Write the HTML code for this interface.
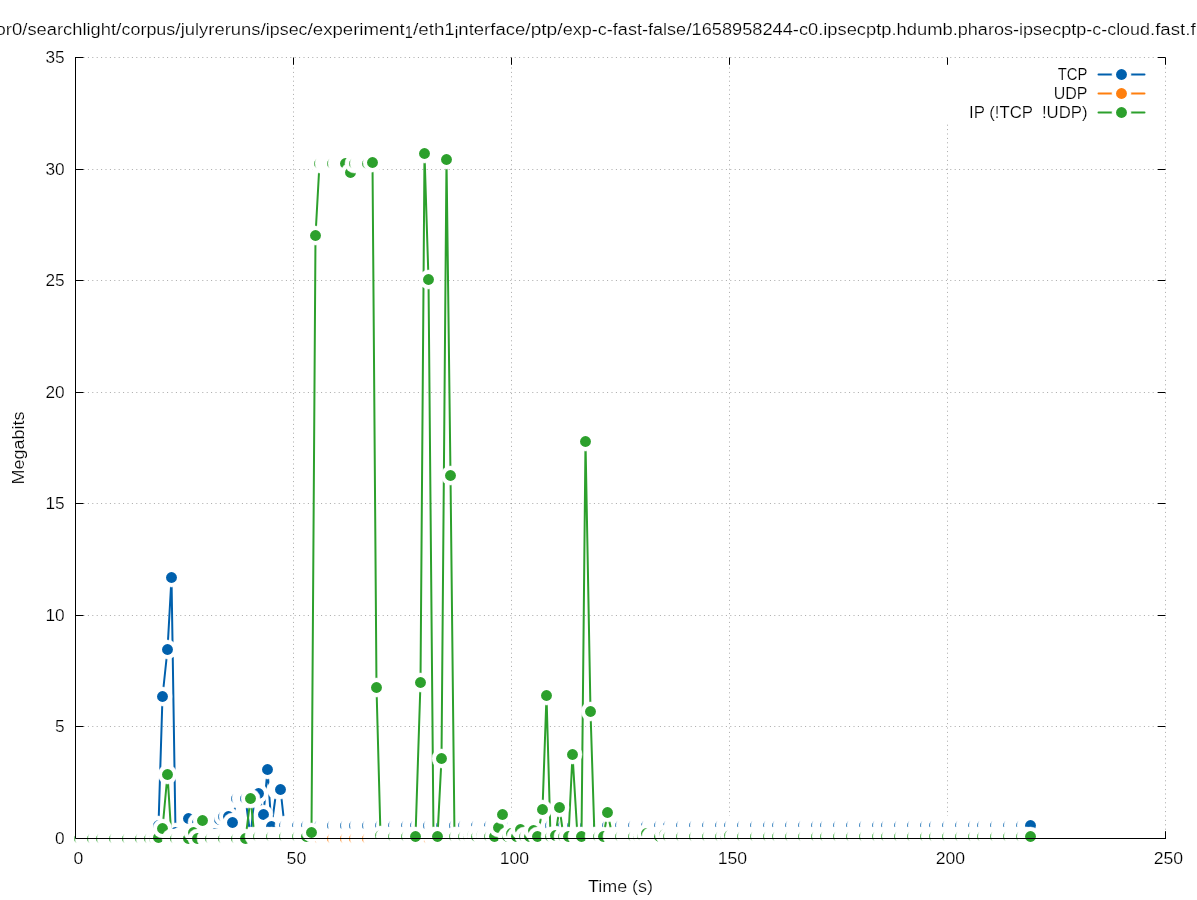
<!DOCTYPE html>
<html><head><meta charset="utf-8"><title>plot</title>
<style>html,body{margin:0;padding:0;background:#fff;overflow:hidden}svg{display:block}circle.h{fill:#fff;stroke:#fff;stroke-opacity:.5;stroke-width:1.2}text{font-family:"Liberation Sans",sans-serif;font-size:16px;fill:#000;stroke:#fff;stroke-width:.2px}</style></head><body>
<svg width="1197" height="900" viewBox="0 0 1197 900">
<rect width="1197" height="900" fill="#fff"/>
<g stroke="#000" stroke-opacity="0.34" stroke-width="1" stroke-dasharray="1 3.4" fill="none">
<path d="M83.5 726.5H1165.5"/>
<path d="M83.5 615.5H1165.5"/>
<path d="M83.5 503.5H1165.5"/>
<path d="M83.5 392.5H1165.5"/>
<path d="M83.5 280.5H1165.5"/>
<path d="M83.5 169.5H1165.5"/>
<path d="M83.5 57.5H1165.5"/>
<path d="M293.5 838.5V57.5"/>
<path d="M511.5 838.5V57.5"/>
<path d="M729.5 838.5V57.5"/>
<path d="M947.5 838.5V57.5"/>
<path d="M1165.5 838.5V57.5"/>
</g>
<g stroke="#000" stroke-width="1" fill="none">
<path d="M75.5 838.5h8M1165.5 838.5h-7.6"/>
<path d="M75.5 726.5h8M1165.5 726.5h-7.6"/>
<path d="M75.5 615.5h8M1165.5 615.5h-7.6"/>
<path d="M75.5 503.5h8M1165.5 503.5h-7.6"/>
<path d="M75.5 392.5h8M1165.5 392.5h-7.6"/>
<path d="M75.5 280.5h8M1165.5 280.5h-7.6"/>
<path d="M75.5 169.5h8M1165.5 169.5h-7.6"/>
<path d="M75.5 57.5h8M1165.5 57.5h-7.6"/>
<path d="M75.5 838.5v-7.3M75.5 57.5v7.3"/>
<path d="M293.5 838.5v-7.3M293.5 57.5v7.3"/>
<path d="M511.5 838.5v-7.3M511.5 57.5v7.3"/>
<path d="M729.5 838.5v-7.3M729.5 57.5v7.3"/>
<path d="M947.5 838.5v-7.3M947.5 57.5v7.3"/>
<path d="M1165.5 838.5v-7.3M1165.5 57.5v7.3"/>
</g>
<rect x="940" y="65.5" width="221" height="58" fill="#fff"/>
<g>
<path d="M158.5 825.5L162.5 696.5L167.5 649.5L171.5 577.5L175.5 832.5L180.5 836.5L184.5 836.5L188.5 818.5L193.5 836.5L197.5 822.5L202.5 836.5L206.5 836.5L210.5 836.5L215.5 833.5L219.5 819.5L223.5 816.5L228.5 816.5L232.5 822.5L236.5 798.5L241.5 798.5L245.5 798.5L250.5 836.5L254.5 797.5L258.5 793.5L263.5 814.5L267.5 769.5L271.5 826.5L276.5 789.5L280.5 789.5L284.5 825.5L289.5 825.5L293.5 825.5L297.5 825.5L302.5 825.5L306.5 825.5L311.5 825.5L315.5 825.5L319.5 825.5L324.5 825.5L328.5 825.5L332.5 825.5L337.5 825.5L341.5 825.5L345.5 825.5L350.5 825.5L354.5 825.5L359.5 825.5L363.5 825.5L367.5 825.5L372.5 825.5L376.5 825.5L380.5 825.5L385.5 825.5L389.5 825.5L393.5 825.5L398.5 825.5L402.5 825.5L406.5 825.5L411.5 825.5L415.5 825.5L420.5 825.5L424.5 825.5L428.5 825.5L433.5 825.5L437.5 825.5L441.5 825.5L446.5 825.5L450.5 825.5L454.5 825.5L459.5 825.5L463.5 825.5L468.5 825.5L472.5 825.5L476.5 825.5L481.5 825.5L485.5 825.5L489.5 825.5L494.5 825.5L498.5 825.5L502.5 825.5L507.5 825.5L511.5 825.5L516.5 825.5L520.5 825.5L524.5 825.5L529.5 825.5L533.5 825.5L537.5 825.5L542.5 825.5L546.5 825.5L550.5 825.5L555.5 825.5L559.5 825.5L563.5 825.5L568.5 825.5L572.5 825.5L577.5 825.5L581.5 825.5L585.5 825.5L590.5 825.5L594.5 825.5L598.5 825.5L603.5 825.5L607.5 825.5L612.5 825.5L616.5 825.5L620.5 825.5L625.5 825.5L629.5 825.5L633.5 825.5L638.5 825.5L642.5 825.5L646.5 825.5L651.5 825.5L655.5 825.5L659.5 825.5L664.5 825.5L668.5 825.5L673.5 825.5L677.5 825.5L681.5 825.5L686.5 825.5L690.5 825.5L694.5 825.5L699.5 825.5L703.5 825.5L707.5 825.5L712.5 825.5L716.5 825.5L720.5 825.5L725.5 825.5L729.5 825.5L734.5 825.5L738.5 825.5L742.5 825.5L747.5 825.5L751.5 825.5L755.5 825.5L760.5 825.5L764.5 825.5L768.5 825.5L773.5 825.5L777.5 825.5L782.5 825.5L786.5 825.5L790.5 825.5L795.5 825.5L799.5 825.5L803.5 825.5L808.5 825.5L812.5 825.5L816.5 825.5L821.5 825.5L825.5 825.5L830.5 825.5L834.5 825.5L838.5 825.5L843.5 825.5L847.5 825.5L851.5 825.5L856.5 825.5L860.5 825.5L864.5 825.5L869.5 825.5L873.5 825.5L877.5 825.5L882.5 825.5L886.5 825.5L891.5 825.5L895.5 825.5L899.5 825.5L904.5 825.5L908.5 825.5L912.5 825.5L917.5 825.5L921.5 825.5L925.5 825.5L930.5 825.5L934.5 825.5L939.5 825.5L943.5 825.5L947.5 825.5L952.5 825.5L956.5 825.5L960.5 825.5L965.5 825.5L969.5 825.5L973.5 825.5L978.5 825.5L982.5 825.5L987.5 825.5L991.5 825.5L995.5 825.5L1000.5 825.5L1004.5 825.5L1008.5 825.5L1013.5 825.5L1017.5 825.5L1021.5 825.5L1026.5 825.5L1030.5 825.5" fill="none" stroke="#0060ad" stroke-width="2" stroke-linejoin="round" stroke-linecap="round"/>
<circle class="h" cx="158.5" cy="825.5" r="9.42"/>
<circle cx="158.5" cy="825.5" r="5.45" fill="#0060ad"/>
<circle class="h" cx="162.5" cy="696.5" r="9.42"/>
<circle cx="162.5" cy="696.5" r="5.45" fill="#0060ad"/>
<circle class="h" cx="167.5" cy="649.5" r="9.42"/>
<circle cx="167.5" cy="649.5" r="5.45" fill="#0060ad"/>
<circle class="h" cx="171.5" cy="577.5" r="9.42"/>
<circle cx="171.5" cy="577.5" r="5.45" fill="#0060ad"/>
<circle class="h" cx="175.5" cy="832.5" r="9.42"/>
<circle cx="175.5" cy="832.5" r="5.45" fill="#0060ad"/>
<circle class="h" cx="180.5" cy="836.5" r="9.42"/>
<circle class="h" cx="184.5" cy="836.5" r="9.42"/>
<circle class="h" cx="188.5" cy="818.5" r="9.42"/>
<circle cx="188.5" cy="818.5" r="5.45" fill="#0060ad"/>
<circle class="h" cx="193.5" cy="836.5" r="9.42"/>
<circle class="h" cx="197.5" cy="822.5" r="9.42"/>
<circle cx="197.5" cy="822.5" r="5.45" fill="#0060ad"/>
<circle class="h" cx="202.5" cy="836.5" r="9.42"/>
<circle class="h" cx="206.5" cy="836.5" r="9.42"/>
<circle class="h" cx="210.5" cy="836.5" r="9.42"/>
<circle class="h" cx="215.5" cy="833.5" r="9.42"/>
<circle cx="215.5" cy="833.5" r="5.45" fill="#0060ad"/>
<circle class="h" cx="219.5" cy="819.5" r="9.42"/>
<circle cx="219.5" cy="819.5" r="5.45" fill="#0060ad"/>
<circle class="h" cx="223.5" cy="816.5" r="9.42"/>
<circle cx="223.5" cy="816.5" r="5.45" fill="#0060ad"/>
<circle class="h" cx="228.5" cy="816.5" r="9.42"/>
<circle cx="228.5" cy="816.5" r="5.45" fill="#0060ad"/>
<circle class="h" cx="232.5" cy="822.5" r="9.42"/>
<circle cx="232.5" cy="822.5" r="5.45" fill="#0060ad"/>
<circle class="h" cx="236.5" cy="798.5" r="9.42"/>
<circle cx="236.5" cy="798.5" r="5.45" fill="#0060ad"/>
<circle class="h" cx="241.5" cy="798.5" r="9.42"/>
<circle class="h" cx="245.5" cy="798.5" r="9.42"/>
<circle cx="245.5" cy="798.5" r="5.45" fill="#0060ad"/>
<circle class="h" cx="250.5" cy="836.5" r="9.42"/>
<circle class="h" cx="254.5" cy="797.5" r="9.42"/>
<circle cx="254.5" cy="797.5" r="5.45" fill="#0060ad"/>
<circle class="h" cx="258.5" cy="793.5" r="9.42"/>
<circle cx="258.5" cy="793.5" r="5.45" fill="#0060ad"/>
<circle class="h" cx="263.5" cy="814.5" r="9.42"/>
<circle cx="263.5" cy="814.5" r="5.45" fill="#0060ad"/>
<circle class="h" cx="267.5" cy="769.5" r="9.42"/>
<circle cx="267.5" cy="769.5" r="5.45" fill="#0060ad"/>
<circle class="h" cx="271.5" cy="826.5" r="9.42"/>
<circle cx="271.5" cy="826.5" r="5.45" fill="#0060ad"/>
<circle class="h" cx="276.5" cy="789.5" r="9.42"/>
<circle class="h" cx="280.5" cy="789.5" r="9.42"/>
<circle cx="280.5" cy="789.5" r="5.45" fill="#0060ad"/>
<circle class="h" cx="284.5" cy="825.5" r="9.42"/>
<circle cx="284.5" cy="825.5" r="5.45" fill="#0060ad"/>
<circle class="h" cx="289.5" cy="825.5" r="9.42"/>
<circle class="h" cx="293.5" cy="825.5" r="9.42"/>
<circle class="h" cx="297.5" cy="825.5" r="9.42"/>
<circle cx="297.5" cy="825.5" r="5.45" fill="#0060ad"/>
<circle class="h" cx="302.5" cy="825.5" r="9.42"/>
<circle class="h" cx="306.5" cy="825.5" r="9.42"/>
<circle cx="306.5" cy="825.5" r="5.45" fill="#0060ad"/>
<circle class="h" cx="311.5" cy="825.5" r="9.42"/>
<circle class="h" cx="315.5" cy="825.5" r="9.42"/>
<circle class="h" cx="319.5" cy="825.5" r="9.42"/>
<circle cx="319.5" cy="825.5" r="5.45" fill="#0060ad"/>
<circle class="h" cx="324.5" cy="825.5" r="9.42"/>
<circle class="h" cx="328.5" cy="825.5" r="9.42"/>
<circle class="h" cx="332.5" cy="825.5" r="9.42"/>
<circle cx="332.5" cy="825.5" r="5.45" fill="#0060ad"/>
<circle class="h" cx="337.5" cy="825.5" r="9.42"/>
<circle class="h" cx="341.5" cy="825.5" r="9.42"/>
<circle class="h" cx="345.5" cy="825.5" r="9.42"/>
<circle cx="345.5" cy="825.5" r="5.45" fill="#0060ad"/>
<circle class="h" cx="350.5" cy="825.5" r="9.42"/>
<circle class="h" cx="354.5" cy="825.5" r="9.42"/>
<circle cx="354.5" cy="825.5" r="5.45" fill="#0060ad"/>
<circle class="h" cx="359.5" cy="825.5" r="9.42"/>
<circle class="h" cx="363.5" cy="825.5" r="9.42"/>
<circle class="h" cx="367.5" cy="825.5" r="9.42"/>
<circle cx="367.5" cy="825.5" r="5.45" fill="#0060ad"/>
<circle class="h" cx="372.5" cy="825.5" r="9.42"/>
<circle class="h" cx="376.5" cy="825.5" r="9.42"/>
<circle class="h" cx="380.5" cy="825.5" r="9.42"/>
<circle cx="380.5" cy="825.5" r="5.45" fill="#0060ad"/>
<circle class="h" cx="385.5" cy="825.5" r="9.42"/>
<circle class="h" cx="389.5" cy="825.5" r="9.42"/>
<circle class="h" cx="393.5" cy="825.5" r="9.42"/>
<circle cx="393.5" cy="825.5" r="5.45" fill="#0060ad"/>
<circle class="h" cx="398.5" cy="825.5" r="9.42"/>
<circle class="h" cx="402.5" cy="825.5" r="9.42"/>
<circle class="h" cx="406.5" cy="825.5" r="9.42"/>
<circle cx="406.5" cy="825.5" r="5.45" fill="#0060ad"/>
<circle class="h" cx="411.5" cy="825.5" r="9.42"/>
<circle class="h" cx="415.5" cy="825.5" r="9.42"/>
<circle cx="415.5" cy="825.5" r="5.45" fill="#0060ad"/>
<circle class="h" cx="420.5" cy="825.5" r="9.42"/>
<circle class="h" cx="424.5" cy="825.5" r="9.42"/>
<circle class="h" cx="428.5" cy="825.5" r="9.42"/>
<circle cx="428.5" cy="825.5" r="5.45" fill="#0060ad"/>
<circle class="h" cx="433.5" cy="825.5" r="9.42"/>
<circle class="h" cx="437.5" cy="825.5" r="9.42"/>
<circle class="h" cx="441.5" cy="825.5" r="9.42"/>
<circle cx="441.5" cy="825.5" r="5.45" fill="#0060ad"/>
<circle class="h" cx="446.5" cy="825.5" r="9.42"/>
<circle class="h" cx="450.5" cy="825.5" r="9.42"/>
<circle class="h" cx="454.5" cy="825.5" r="9.42"/>
<circle cx="454.5" cy="825.5" r="5.45" fill="#0060ad"/>
<circle class="h" cx="459.5" cy="825.5" r="9.42"/>
<circle class="h" cx="463.5" cy="825.5" r="9.42"/>
<circle cx="463.5" cy="825.5" r="5.45" fill="#0060ad"/>
<circle class="h" cx="468.5" cy="825.5" r="9.42"/>
<circle class="h" cx="472.5" cy="825.5" r="9.42"/>
<circle class="h" cx="476.5" cy="825.5" r="9.42"/>
<circle cx="476.5" cy="825.5" r="5.45" fill="#0060ad"/>
<circle class="h" cx="481.5" cy="825.5" r="9.42"/>
<circle class="h" cx="485.5" cy="825.5" r="9.42"/>
<circle class="h" cx="489.5" cy="825.5" r="9.42"/>
<circle cx="489.5" cy="825.5" r="5.45" fill="#0060ad"/>
<circle class="h" cx="494.5" cy="825.5" r="9.42"/>
<circle class="h" cx="498.5" cy="825.5" r="9.42"/>
<circle class="h" cx="502.5" cy="825.5" r="9.42"/>
<circle cx="502.5" cy="825.5" r="5.45" fill="#0060ad"/>
<circle class="h" cx="507.5" cy="825.5" r="9.42"/>
<circle class="h" cx="511.5" cy="825.5" r="9.42"/>
<circle cx="511.5" cy="825.5" r="5.45" fill="#0060ad"/>
<circle class="h" cx="516.5" cy="825.5" r="9.42"/>
<circle class="h" cx="520.5" cy="825.5" r="9.42"/>
<circle class="h" cx="524.5" cy="825.5" r="9.42"/>
<circle cx="524.5" cy="825.5" r="5.45" fill="#0060ad"/>
<circle class="h" cx="529.5" cy="825.5" r="9.42"/>
<circle class="h" cx="533.5" cy="825.5" r="9.42"/>
<circle class="h" cx="537.5" cy="825.5" r="9.42"/>
<circle cx="537.5" cy="825.5" r="5.45" fill="#0060ad"/>
<circle class="h" cx="542.5" cy="825.5" r="9.42"/>
<circle class="h" cx="546.5" cy="825.5" r="9.42"/>
<circle class="h" cx="550.5" cy="825.5" r="9.42"/>
<circle cx="550.5" cy="825.5" r="5.45" fill="#0060ad"/>
<circle class="h" cx="555.5" cy="825.5" r="9.42"/>
<circle class="h" cx="559.5" cy="825.5" r="9.42"/>
<circle class="h" cx="563.5" cy="825.5" r="9.42"/>
<circle cx="563.5" cy="825.5" r="5.45" fill="#0060ad"/>
<circle class="h" cx="568.5" cy="825.5" r="9.42"/>
<circle class="h" cx="572.5" cy="825.5" r="9.42"/>
<circle cx="572.5" cy="825.5" r="5.45" fill="#0060ad"/>
<circle class="h" cx="577.5" cy="825.5" r="9.42"/>
<circle class="h" cx="581.5" cy="825.5" r="9.42"/>
<circle class="h" cx="585.5" cy="825.5" r="9.42"/>
<circle cx="585.5" cy="825.5" r="5.45" fill="#0060ad"/>
<circle class="h" cx="590.5" cy="825.5" r="9.42"/>
<circle class="h" cx="594.5" cy="825.5" r="9.42"/>
<circle class="h" cx="598.5" cy="825.5" r="9.42"/>
<circle cx="598.5" cy="825.5" r="5.45" fill="#0060ad"/>
<circle class="h" cx="603.5" cy="825.5" r="9.42"/>
<circle class="h" cx="607.5" cy="825.5" r="9.42"/>
<circle cx="607.5" cy="825.5" r="5.45" fill="#0060ad"/>
<circle class="h" cx="612.5" cy="825.5" r="9.42"/>
<circle class="h" cx="616.5" cy="825.5" r="9.42"/>
<circle class="h" cx="620.5" cy="825.5" r="9.42"/>
<circle cx="620.5" cy="825.5" r="5.45" fill="#0060ad"/>
<circle class="h" cx="625.5" cy="825.5" r="9.42"/>
<circle class="h" cx="629.5" cy="825.5" r="9.42"/>
<circle class="h" cx="633.5" cy="825.5" r="9.42"/>
<circle cx="633.5" cy="825.5" r="5.45" fill="#0060ad"/>
<circle class="h" cx="638.5" cy="825.5" r="9.42"/>
<circle class="h" cx="642.5" cy="825.5" r="9.42"/>
<circle class="h" cx="646.5" cy="825.5" r="9.42"/>
<circle cx="646.5" cy="825.5" r="5.45" fill="#0060ad"/>
<circle class="h" cx="651.5" cy="825.5" r="9.42"/>
<circle class="h" cx="655.5" cy="825.5" r="9.42"/>
<circle class="h" cx="659.5" cy="825.5" r="9.42"/>
<circle cx="659.5" cy="825.5" r="5.45" fill="#0060ad"/>
<circle class="h" cx="664.5" cy="825.5" r="9.42"/>
<circle class="h" cx="668.5" cy="825.5" r="9.42"/>
<circle cx="668.5" cy="825.5" r="5.45" fill="#0060ad"/>
<circle class="h" cx="673.5" cy="825.5" r="9.42"/>
<circle class="h" cx="677.5" cy="825.5" r="9.42"/>
<circle class="h" cx="681.5" cy="825.5" r="9.42"/>
<circle cx="681.5" cy="825.5" r="5.45" fill="#0060ad"/>
<circle class="h" cx="686.5" cy="825.5" r="9.42"/>
<circle class="h" cx="690.5" cy="825.5" r="9.42"/>
<circle class="h" cx="694.5" cy="825.5" r="9.42"/>
<circle cx="694.5" cy="825.5" r="5.45" fill="#0060ad"/>
<circle class="h" cx="699.5" cy="825.5" r="9.42"/>
<circle class="h" cx="703.5" cy="825.5" r="9.42"/>
<circle class="h" cx="707.5" cy="825.5" r="9.42"/>
<circle cx="707.5" cy="825.5" r="5.45" fill="#0060ad"/>
<circle class="h" cx="712.5" cy="825.5" r="9.42"/>
<circle class="h" cx="716.5" cy="825.5" r="9.42"/>
<circle class="h" cx="720.5" cy="825.5" r="9.42"/>
<circle cx="720.5" cy="825.5" r="5.45" fill="#0060ad"/>
<circle class="h" cx="725.5" cy="825.5" r="9.42"/>
<circle class="h" cx="729.5" cy="825.5" r="9.42"/>
<circle cx="729.5" cy="825.5" r="5.45" fill="#0060ad"/>
<circle class="h" cx="734.5" cy="825.5" r="9.42"/>
<circle class="h" cx="738.5" cy="825.5" r="9.42"/>
<circle class="h" cx="742.5" cy="825.5" r="9.42"/>
<circle cx="742.5" cy="825.5" r="5.45" fill="#0060ad"/>
<circle class="h" cx="747.5" cy="825.5" r="9.42"/>
<circle class="h" cx="751.5" cy="825.5" r="9.42"/>
<circle class="h" cx="755.5" cy="825.5" r="9.42"/>
<circle cx="755.5" cy="825.5" r="5.45" fill="#0060ad"/>
<circle class="h" cx="760.5" cy="825.5" r="9.42"/>
<circle class="h" cx="764.5" cy="825.5" r="9.42"/>
<circle class="h" cx="768.5" cy="825.5" r="9.42"/>
<circle cx="768.5" cy="825.5" r="5.45" fill="#0060ad"/>
<circle class="h" cx="773.5" cy="825.5" r="9.42"/>
<circle class="h" cx="777.5" cy="825.5" r="9.42"/>
<circle cx="777.5" cy="825.5" r="5.45" fill="#0060ad"/>
<circle class="h" cx="782.5" cy="825.5" r="9.42"/>
<circle class="h" cx="786.5" cy="825.5" r="9.42"/>
<circle class="h" cx="790.5" cy="825.5" r="9.42"/>
<circle cx="790.5" cy="825.5" r="5.45" fill="#0060ad"/>
<circle class="h" cx="795.5" cy="825.5" r="9.42"/>
<circle class="h" cx="799.5" cy="825.5" r="9.42"/>
<circle class="h" cx="803.5" cy="825.5" r="9.42"/>
<circle cx="803.5" cy="825.5" r="5.45" fill="#0060ad"/>
<circle class="h" cx="808.5" cy="825.5" r="9.42"/>
<circle class="h" cx="812.5" cy="825.5" r="9.42"/>
<circle class="h" cx="816.5" cy="825.5" r="9.42"/>
<circle cx="816.5" cy="825.5" r="5.45" fill="#0060ad"/>
<circle class="h" cx="821.5" cy="825.5" r="9.42"/>
<circle class="h" cx="825.5" cy="825.5" r="9.42"/>
<circle cx="825.5" cy="825.5" r="5.45" fill="#0060ad"/>
<circle class="h" cx="830.5" cy="825.5" r="9.42"/>
<circle class="h" cx="834.5" cy="825.5" r="9.42"/>
<circle class="h" cx="838.5" cy="825.5" r="9.42"/>
<circle cx="838.5" cy="825.5" r="5.45" fill="#0060ad"/>
<circle class="h" cx="843.5" cy="825.5" r="9.42"/>
<circle class="h" cx="847.5" cy="825.5" r="9.42"/>
<circle class="h" cx="851.5" cy="825.5" r="9.42"/>
<circle cx="851.5" cy="825.5" r="5.45" fill="#0060ad"/>
<circle class="h" cx="856.5" cy="825.5" r="9.42"/>
<circle class="h" cx="860.5" cy="825.5" r="9.42"/>
<circle class="h" cx="864.5" cy="825.5" r="9.42"/>
<circle cx="864.5" cy="825.5" r="5.45" fill="#0060ad"/>
<circle class="h" cx="869.5" cy="825.5" r="9.42"/>
<circle class="h" cx="873.5" cy="825.5" r="9.42"/>
<circle class="h" cx="877.5" cy="825.5" r="9.42"/>
<circle cx="877.5" cy="825.5" r="5.45" fill="#0060ad"/>
<circle class="h" cx="882.5" cy="825.5" r="9.42"/>
<circle class="h" cx="886.5" cy="825.5" r="9.42"/>
<circle cx="886.5" cy="825.5" r="5.45" fill="#0060ad"/>
<circle class="h" cx="891.5" cy="825.5" r="9.42"/>
<circle class="h" cx="895.5" cy="825.5" r="9.42"/>
<circle class="h" cx="899.5" cy="825.5" r="9.42"/>
<circle cx="899.5" cy="825.5" r="5.45" fill="#0060ad"/>
<circle class="h" cx="904.5" cy="825.5" r="9.42"/>
<circle class="h" cx="908.5" cy="825.5" r="9.42"/>
<circle class="h" cx="912.5" cy="825.5" r="9.42"/>
<circle cx="912.5" cy="825.5" r="5.45" fill="#0060ad"/>
<circle class="h" cx="917.5" cy="825.5" r="9.42"/>
<circle class="h" cx="921.5" cy="825.5" r="9.42"/>
<circle class="h" cx="925.5" cy="825.5" r="9.42"/>
<circle cx="925.5" cy="825.5" r="5.45" fill="#0060ad"/>
<circle class="h" cx="930.5" cy="825.5" r="9.42"/>
<circle class="h" cx="934.5" cy="825.5" r="9.42"/>
<circle cx="934.5" cy="825.5" r="5.45" fill="#0060ad"/>
<circle class="h" cx="939.5" cy="825.5" r="9.42"/>
<circle class="h" cx="943.5" cy="825.5" r="9.42"/>
<circle class="h" cx="947.5" cy="825.5" r="9.42"/>
<circle cx="947.5" cy="825.5" r="5.45" fill="#0060ad"/>
<circle class="h" cx="952.5" cy="825.5" r="9.42"/>
<circle class="h" cx="956.5" cy="825.5" r="9.42"/>
<circle class="h" cx="960.5" cy="825.5" r="9.42"/>
<circle cx="960.5" cy="825.5" r="5.45" fill="#0060ad"/>
<circle class="h" cx="965.5" cy="825.5" r="9.42"/>
<circle class="h" cx="969.5" cy="825.5" r="9.42"/>
<circle class="h" cx="973.5" cy="825.5" r="9.42"/>
<circle cx="973.5" cy="825.5" r="5.45" fill="#0060ad"/>
<circle class="h" cx="978.5" cy="825.5" r="9.42"/>
<circle class="h" cx="982.5" cy="825.5" r="9.42"/>
<circle cx="982.5" cy="825.5" r="5.45" fill="#0060ad"/>
<circle class="h" cx="987.5" cy="825.5" r="9.42"/>
<circle class="h" cx="991.5" cy="825.5" r="9.42"/>
<circle class="h" cx="995.5" cy="825.5" r="9.42"/>
<circle cx="995.5" cy="825.5" r="5.45" fill="#0060ad"/>
<circle class="h" cx="1000.5" cy="825.5" r="9.42"/>
<circle class="h" cx="1004.5" cy="825.5" r="9.42"/>
<circle class="h" cx="1008.5" cy="825.5" r="9.42"/>
<circle cx="1008.5" cy="825.5" r="5.45" fill="#0060ad"/>
<circle class="h" cx="1013.5" cy="825.5" r="9.42"/>
<circle class="h" cx="1017.5" cy="825.5" r="9.42"/>
<circle class="h" cx="1021.5" cy="825.5" r="9.42"/>
<circle cx="1021.5" cy="825.5" r="5.45" fill="#0060ad"/>
<circle class="h" cx="1026.5" cy="825.5" r="9.42"/>
<circle class="h" cx="1030.5" cy="825.5" r="9.42"/>
<circle cx="1030.5" cy="825.5" r="5.45" fill="#0060ad"/>
<path d="M75.5 838.5L79.5 838.5L84.5 838.5L88.5 838.5L92.5 838.5L97.5 838.5L101.5 838.5L106.5 838.5L110.5 838.5L114.5 838.5L119.5 838.5L123.5 838.5L127.5 838.5L132.5 838.5L136.5 838.5L140.5 838.5L145.5 838.5L149.5 838.5L154.5 838.5L158.5 838.5L162.5 838.5L167.5 838.5L171.5 838.5L175.5 838.5L180.5 838.5L184.5 838.5L188.5 838.5L193.5 838.5L197.5 838.5L202.5 838.5L206.5 838.5L210.5 838.5L215.5 838.5L219.5 838.5L223.5 838.5L228.5 838.5L232.5 838.5L236.5 838.5L241.5 838.5L245.5 838.5L250.5 838.5L254.5 838.5L258.5 838.5L263.5 838.5L267.5 838.5L271.5 838.5L276.5 838.5L280.5 838.5L284.5 838.5L289.5 838.5L293.5 838.5L297.5 838.5L302.5 838.5L306.5 838.5L311.5 838.5L315.5 838.5L319.5 838.5L324.5 838.5L328.5 838.5L332.5 838.5L337.5 838.5L341.5 838.5L345.5 838.5L350.5 838.5L354.5 838.5L359.5 838.5L363.5 838.5L367.5 838.5L372.5 838.5L376.5 838.5L380.5 838.5L385.5 838.5L389.5 838.5L393.5 838.5L398.5 838.5L402.5 838.5L406.5 838.5L411.5 838.5L415.5 838.5L420.5 838.5L424.5 838.5L428.5 838.5L433.5 838.5L437.5 838.5L441.5 838.5L446.5 838.5L450.5 838.5L454.5 838.5L459.5 838.5L463.5 838.5L468.5 838.5L472.5 838.5L476.5 838.5L481.5 838.5L485.5 838.5L489.5 838.5L494.5 838.5L498.5 838.5L502.5 838.5L507.5 838.5L511.5 838.5L516.5 838.5L520.5 838.5L524.5 838.5L529.5 838.5L533.5 838.5L537.5 838.5L542.5 838.5L546.5 838.5L550.5 838.5L555.5 838.5L559.5 838.5L563.5 838.5L568.5 838.5L572.5 838.5L577.5 838.5L581.5 838.5L585.5 838.5L590.5 838.5L594.5 838.5L598.5 838.5L603.5 838.5L607.5 838.5L612.5 838.5L616.5 838.5L620.5 838.5L625.5 838.5L629.5 838.5L633.5 838.5L638.5 838.5L642.5 838.5L646.5 838.5L651.5 838.5L655.5 838.5L659.5 838.5L664.5 838.5L668.5 838.5L673.5 838.5L677.5 838.5L681.5 838.5L686.5 838.5L690.5 838.5L694.5 838.5L699.5 838.5L703.5 838.5L707.5 838.5L712.5 838.5L716.5 838.5L720.5 838.5L725.5 838.5L729.5 838.5L734.5 838.5L738.5 838.5L742.5 838.5L747.5 838.5L751.5 838.5L755.5 838.5L760.5 838.5L764.5 838.5L768.5 838.5L773.5 838.5L777.5 838.5L782.5 838.5L786.5 838.5L790.5 838.5L795.5 838.5L799.5 838.5L803.5 838.5L808.5 838.5L812.5 838.5L816.5 838.5L821.5 838.5L825.5 838.5L830.5 838.5L834.5 838.5L838.5 838.5L843.5 838.5L847.5 838.5L851.5 838.5L856.5 838.5L860.5 838.5L864.5 838.5L869.5 838.5L873.5 838.5L877.5 838.5L882.5 838.5L886.5 838.5L891.5 838.5L895.5 838.5L899.5 838.5L904.5 838.5L908.5 838.5L912.5 838.5L917.5 838.5L921.5 838.5L925.5 838.5L930.5 838.5L934.5 838.5L939.5 838.5L943.5 838.5L947.5 838.5L952.5 838.5L956.5 838.5L960.5 838.5L965.5 838.5L969.5 838.5L973.5 838.5L978.5 838.5L982.5 838.5L987.5 838.5L991.5 838.5L995.5 838.5L1000.5 838.5L1004.5 838.5L1008.5 838.5L1013.5 838.5L1017.5 838.5L1021.5 838.5L1026.5 838.5L1030.5 838.5" fill="none" stroke="#ff7f0e" stroke-width="2" stroke-linejoin="round" stroke-linecap="round"/>
<circle class="h" cx="75.5" cy="838.5" r="9.42"/>
<circle class="h" cx="79.5" cy="838.5" r="9.42"/>
<circle class="h" cx="84.5" cy="838.5" r="9.42"/>
<circle class="h" cx="88.5" cy="838.5" r="9.42"/>
<circle class="h" cx="92.5" cy="838.5" r="9.42"/>
<circle class="h" cx="97.5" cy="838.5" r="9.42"/>
<circle class="h" cx="101.5" cy="838.5" r="9.42"/>
<circle class="h" cx="106.5" cy="838.5" r="9.42"/>
<circle class="h" cx="110.5" cy="838.5" r="9.42"/>
<circle class="h" cx="114.5" cy="838.5" r="9.42"/>
<circle class="h" cx="119.5" cy="838.5" r="9.42"/>
<circle class="h" cx="123.5" cy="838.5" r="9.42"/>
<circle class="h" cx="127.5" cy="838.5" r="9.42"/>
<circle class="h" cx="132.5" cy="838.5" r="9.42"/>
<circle class="h" cx="136.5" cy="838.5" r="9.42"/>
<circle class="h" cx="140.5" cy="838.5" r="9.42"/>
<circle class="h" cx="145.5" cy="838.5" r="9.42"/>
<circle class="h" cx="149.5" cy="838.5" r="9.42"/>
<circle class="h" cx="154.5" cy="838.5" r="9.42"/>
<circle class="h" cx="158.5" cy="838.5" r="9.42"/>
<circle class="h" cx="162.5" cy="838.5" r="9.42"/>
<circle cx="162.5" cy="838.5" r="5.45" fill="#ff7f0e"/>
<circle class="h" cx="167.5" cy="838.5" r="9.42"/>
<circle class="h" cx="171.5" cy="838.5" r="9.42"/>
<circle class="h" cx="175.5" cy="838.5" r="9.42"/>
<circle class="h" cx="180.5" cy="838.5" r="9.42"/>
<circle class="h" cx="184.5" cy="838.5" r="9.42"/>
<circle class="h" cx="188.5" cy="838.5" r="9.42"/>
<circle class="h" cx="193.5" cy="838.5" r="9.42"/>
<circle class="h" cx="197.5" cy="838.5" r="9.42"/>
<circle class="h" cx="202.5" cy="838.5" r="9.42"/>
<circle class="h" cx="206.5" cy="838.5" r="9.42"/>
<circle class="h" cx="210.5" cy="838.5" r="9.42"/>
<circle class="h" cx="215.5" cy="838.5" r="9.42"/>
<circle class="h" cx="219.5" cy="838.5" r="9.42"/>
<circle class="h" cx="223.5" cy="838.5" r="9.42"/>
<circle class="h" cx="228.5" cy="838.5" r="9.42"/>
<circle class="h" cx="232.5" cy="838.5" r="9.42"/>
<circle class="h" cx="236.5" cy="838.5" r="9.42"/>
<circle class="h" cx="241.5" cy="838.5" r="9.42"/>
<circle class="h" cx="245.5" cy="838.5" r="9.42"/>
<circle class="h" cx="250.5" cy="838.5" r="9.42"/>
<circle class="h" cx="254.5" cy="838.5" r="9.42"/>
<circle class="h" cx="258.5" cy="838.5" r="9.42"/>
<circle class="h" cx="263.5" cy="838.5" r="9.42"/>
<circle class="h" cx="267.5" cy="838.5" r="9.42"/>
<circle class="h" cx="271.5" cy="838.5" r="9.42"/>
<circle class="h" cx="276.5" cy="838.5" r="9.42"/>
<circle class="h" cx="280.5" cy="838.5" r="9.42"/>
<circle class="h" cx="284.5" cy="838.5" r="9.42"/>
<circle class="h" cx="289.5" cy="838.5" r="9.42"/>
<circle class="h" cx="293.5" cy="838.5" r="9.42"/>
<circle class="h" cx="297.5" cy="838.5" r="9.42"/>
<circle class="h" cx="302.5" cy="838.5" r="9.42"/>
<circle class="h" cx="306.5" cy="838.5" r="9.42"/>
<circle class="h" cx="311.5" cy="838.5" r="9.42"/>
<circle class="h" cx="315.5" cy="838.5" r="9.42"/>
<circle class="h" cx="319.5" cy="838.5" r="9.42"/>
<circle cx="319.5" cy="838.5" r="5.45" fill="#ff7f0e"/>
<circle class="h" cx="324.5" cy="838.5" r="9.42"/>
<circle class="h" cx="328.5" cy="838.5" r="9.42"/>
<circle class="h" cx="332.5" cy="838.5" r="9.42"/>
<circle cx="332.5" cy="838.5" r="5.45" fill="#ff7f0e"/>
<circle class="h" cx="337.5" cy="838.5" r="9.42"/>
<circle class="h" cx="341.5" cy="838.5" r="9.42"/>
<circle class="h" cx="345.5" cy="838.5" r="9.42"/>
<circle cx="345.5" cy="838.5" r="5.45" fill="#ff7f0e"/>
<circle class="h" cx="350.5" cy="838.5" r="9.42"/>
<circle class="h" cx="354.5" cy="838.5" r="9.42"/>
<circle cx="354.5" cy="838.5" r="5.45" fill="#ff7f0e"/>
<circle class="h" cx="359.5" cy="838.5" r="9.42"/>
<circle class="h" cx="363.5" cy="838.5" r="9.42"/>
<circle class="h" cx="367.5" cy="838.5" r="9.42"/>
<circle cx="367.5" cy="838.5" r="5.45" fill="#ff7f0e"/>
<circle class="h" cx="372.5" cy="838.5" r="9.42"/>
<circle class="h" cx="376.5" cy="838.5" r="9.42"/>
<circle class="h" cx="380.5" cy="838.5" r="9.42"/>
<circle class="h" cx="385.5" cy="838.5" r="9.42"/>
<circle class="h" cx="389.5" cy="838.5" r="9.42"/>
<circle class="h" cx="393.5" cy="838.5" r="9.42"/>
<circle class="h" cx="398.5" cy="838.5" r="9.42"/>
<circle class="h" cx="402.5" cy="838.5" r="9.42"/>
<circle class="h" cx="406.5" cy="838.5" r="9.42"/>
<circle class="h" cx="411.5" cy="838.5" r="9.42"/>
<circle class="h" cx="415.5" cy="838.5" r="9.42"/>
<circle class="h" cx="420.5" cy="838.5" r="9.42"/>
<circle class="h" cx="424.5" cy="838.5" r="9.42"/>
<circle class="h" cx="428.5" cy="838.5" r="9.42"/>
<circle cx="428.5" cy="838.5" r="5.45" fill="#ff7f0e"/>
<circle class="h" cx="433.5" cy="838.5" r="9.42"/>
<circle class="h" cx="437.5" cy="838.5" r="9.42"/>
<circle class="h" cx="441.5" cy="838.5" r="9.42"/>
<circle cx="441.5" cy="838.5" r="5.45" fill="#ff7f0e"/>
<circle class="h" cx="446.5" cy="838.5" r="9.42"/>
<circle class="h" cx="450.5" cy="838.5" r="9.42"/>
<circle class="h" cx="454.5" cy="838.5" r="9.42"/>
<circle class="h" cx="459.5" cy="838.5" r="9.42"/>
<circle class="h" cx="463.5" cy="838.5" r="9.42"/>
<circle class="h" cx="468.5" cy="838.5" r="9.42"/>
<circle class="h" cx="472.5" cy="838.5" r="9.42"/>
<circle class="h" cx="476.5" cy="838.5" r="9.42"/>
<circle class="h" cx="481.5" cy="838.5" r="9.42"/>
<circle class="h" cx="485.5" cy="838.5" r="9.42"/>
<circle class="h" cx="489.5" cy="838.5" r="9.42"/>
<circle class="h" cx="494.5" cy="838.5" r="9.42"/>
<circle class="h" cx="498.5" cy="838.5" r="9.42"/>
<circle class="h" cx="502.5" cy="838.5" r="9.42"/>
<circle cx="502.5" cy="838.5" r="5.45" fill="#ff7f0e"/>
<circle class="h" cx="507.5" cy="838.5" r="9.42"/>
<circle class="h" cx="511.5" cy="838.5" r="9.42"/>
<circle cx="511.5" cy="838.5" r="5.45" fill="#ff7f0e"/>
<circle class="h" cx="516.5" cy="838.5" r="9.42"/>
<circle class="h" cx="520.5" cy="838.5" r="9.42"/>
<circle class="h" cx="524.5" cy="838.5" r="9.42"/>
<circle class="h" cx="529.5" cy="838.5" r="9.42"/>
<circle class="h" cx="533.5" cy="838.5" r="9.42"/>
<circle class="h" cx="537.5" cy="838.5" r="9.42"/>
<circle class="h" cx="542.5" cy="838.5" r="9.42"/>
<circle class="h" cx="546.5" cy="838.5" r="9.42"/>
<circle class="h" cx="550.5" cy="838.5" r="9.42"/>
<circle class="h" cx="555.5" cy="838.5" r="9.42"/>
<circle class="h" cx="559.5" cy="838.5" r="9.42"/>
<circle class="h" cx="563.5" cy="838.5" r="9.42"/>
<circle class="h" cx="568.5" cy="838.5" r="9.42"/>
<circle class="h" cx="572.5" cy="838.5" r="9.42"/>
<circle cx="572.5" cy="838.5" r="5.45" fill="#ff7f0e"/>
<circle class="h" cx="577.5" cy="838.5" r="9.42"/>
<circle class="h" cx="581.5" cy="838.5" r="9.42"/>
<circle class="h" cx="585.5" cy="838.5" r="9.42"/>
<circle cx="585.5" cy="838.5" r="5.45" fill="#ff7f0e"/>
<circle class="h" cx="590.5" cy="838.5" r="9.42"/>
<circle class="h" cx="594.5" cy="838.5" r="9.42"/>
<circle class="h" cx="598.5" cy="838.5" r="9.42"/>
<circle class="h" cx="603.5" cy="838.5" r="9.42"/>
<circle class="h" cx="607.5" cy="838.5" r="9.42"/>
<circle cx="607.5" cy="838.5" r="5.45" fill="#ff7f0e"/>
<circle class="h" cx="612.5" cy="838.5" r="9.42"/>
<circle class="h" cx="616.5" cy="838.5" r="9.42"/>
<circle class="h" cx="620.5" cy="838.5" r="9.42"/>
<circle class="h" cx="625.5" cy="838.5" r="9.42"/>
<circle class="h" cx="629.5" cy="838.5" r="9.42"/>
<circle class="h" cx="633.5" cy="838.5" r="9.42"/>
<circle class="h" cx="638.5" cy="838.5" r="9.42"/>
<circle class="h" cx="642.5" cy="838.5" r="9.42"/>
<circle class="h" cx="646.5" cy="838.5" r="9.42"/>
<circle cx="646.5" cy="838.5" r="5.45" fill="#ff7f0e"/>
<circle class="h" cx="651.5" cy="838.5" r="9.42"/>
<circle class="h" cx="655.5" cy="838.5" r="9.42"/>
<circle class="h" cx="659.5" cy="838.5" r="9.42"/>
<circle class="h" cx="664.5" cy="838.5" r="9.42"/>
<circle class="h" cx="668.5" cy="838.5" r="9.42"/>
<circle class="h" cx="673.5" cy="838.5" r="9.42"/>
<circle class="h" cx="677.5" cy="838.5" r="9.42"/>
<circle class="h" cx="681.5" cy="838.5" r="9.42"/>
<circle class="h" cx="686.5" cy="838.5" r="9.42"/>
<circle class="h" cx="690.5" cy="838.5" r="9.42"/>
<circle class="h" cx="694.5" cy="838.5" r="9.42"/>
<circle class="h" cx="699.5" cy="838.5" r="9.42"/>
<circle class="h" cx="703.5" cy="838.5" r="9.42"/>
<circle class="h" cx="707.5" cy="838.5" r="9.42"/>
<circle class="h" cx="712.5" cy="838.5" r="9.42"/>
<circle class="h" cx="716.5" cy="838.5" r="9.42"/>
<circle class="h" cx="720.5" cy="838.5" r="9.42"/>
<circle class="h" cx="725.5" cy="838.5" r="9.42"/>
<circle class="h" cx="729.5" cy="838.5" r="9.42"/>
<circle class="h" cx="734.5" cy="838.5" r="9.42"/>
<circle class="h" cx="738.5" cy="838.5" r="9.42"/>
<circle class="h" cx="742.5" cy="838.5" r="9.42"/>
<circle class="h" cx="747.5" cy="838.5" r="9.42"/>
<circle class="h" cx="751.5" cy="838.5" r="9.42"/>
<circle class="h" cx="755.5" cy="838.5" r="9.42"/>
<circle class="h" cx="760.5" cy="838.5" r="9.42"/>
<circle class="h" cx="764.5" cy="838.5" r="9.42"/>
<circle class="h" cx="768.5" cy="838.5" r="9.42"/>
<circle class="h" cx="773.5" cy="838.5" r="9.42"/>
<circle class="h" cx="777.5" cy="838.5" r="9.42"/>
<circle class="h" cx="782.5" cy="838.5" r="9.42"/>
<circle class="h" cx="786.5" cy="838.5" r="9.42"/>
<circle class="h" cx="790.5" cy="838.5" r="9.42"/>
<circle class="h" cx="795.5" cy="838.5" r="9.42"/>
<circle class="h" cx="799.5" cy="838.5" r="9.42"/>
<circle class="h" cx="803.5" cy="838.5" r="9.42"/>
<circle class="h" cx="808.5" cy="838.5" r="9.42"/>
<circle class="h" cx="812.5" cy="838.5" r="9.42"/>
<circle class="h" cx="816.5" cy="838.5" r="9.42"/>
<circle class="h" cx="821.5" cy="838.5" r="9.42"/>
<circle class="h" cx="825.5" cy="838.5" r="9.42"/>
<circle class="h" cx="830.5" cy="838.5" r="9.42"/>
<circle class="h" cx="834.5" cy="838.5" r="9.42"/>
<circle class="h" cx="838.5" cy="838.5" r="9.42"/>
<circle class="h" cx="843.5" cy="838.5" r="9.42"/>
<circle class="h" cx="847.5" cy="838.5" r="9.42"/>
<circle class="h" cx="851.5" cy="838.5" r="9.42"/>
<circle class="h" cx="856.5" cy="838.5" r="9.42"/>
<circle class="h" cx="860.5" cy="838.5" r="9.42"/>
<circle class="h" cx="864.5" cy="838.5" r="9.42"/>
<circle class="h" cx="869.5" cy="838.5" r="9.42"/>
<circle class="h" cx="873.5" cy="838.5" r="9.42"/>
<circle class="h" cx="877.5" cy="838.5" r="9.42"/>
<circle class="h" cx="882.5" cy="838.5" r="9.42"/>
<circle class="h" cx="886.5" cy="838.5" r="9.42"/>
<circle class="h" cx="891.5" cy="838.5" r="9.42"/>
<circle class="h" cx="895.5" cy="838.5" r="9.42"/>
<circle class="h" cx="899.5" cy="838.5" r="9.42"/>
<circle class="h" cx="904.5" cy="838.5" r="9.42"/>
<circle class="h" cx="908.5" cy="838.5" r="9.42"/>
<circle class="h" cx="912.5" cy="838.5" r="9.42"/>
<circle class="h" cx="917.5" cy="838.5" r="9.42"/>
<circle class="h" cx="921.5" cy="838.5" r="9.42"/>
<circle class="h" cx="925.5" cy="838.5" r="9.42"/>
<circle class="h" cx="930.5" cy="838.5" r="9.42"/>
<circle class="h" cx="934.5" cy="838.5" r="9.42"/>
<circle class="h" cx="939.5" cy="838.5" r="9.42"/>
<circle class="h" cx="943.5" cy="838.5" r="9.42"/>
<circle class="h" cx="947.5" cy="838.5" r="9.42"/>
<circle class="h" cx="952.5" cy="838.5" r="9.42"/>
<circle class="h" cx="956.5" cy="838.5" r="9.42"/>
<circle class="h" cx="960.5" cy="838.5" r="9.42"/>
<circle class="h" cx="965.5" cy="838.5" r="9.42"/>
<circle class="h" cx="969.5" cy="838.5" r="9.42"/>
<circle class="h" cx="973.5" cy="838.5" r="9.42"/>
<circle class="h" cx="978.5" cy="838.5" r="9.42"/>
<circle class="h" cx="982.5" cy="838.5" r="9.42"/>
<circle class="h" cx="987.5" cy="838.5" r="9.42"/>
<circle class="h" cx="991.5" cy="838.5" r="9.42"/>
<circle class="h" cx="995.5" cy="838.5" r="9.42"/>
<circle class="h" cx="1000.5" cy="838.5" r="9.42"/>
<circle class="h" cx="1004.5" cy="838.5" r="9.42"/>
<circle class="h" cx="1008.5" cy="838.5" r="9.42"/>
<circle class="h" cx="1013.5" cy="838.5" r="9.42"/>
<circle class="h" cx="1017.5" cy="838.5" r="9.42"/>
<circle class="h" cx="1021.5" cy="838.5" r="9.42"/>
<circle class="h" cx="1026.5" cy="838.5" r="9.42"/>
<circle class="h" cx="1030.5" cy="838.5" r="9.42"/>
<path d="M75.5 838.5L79.5 838.5L84.5 838.5L88.5 838.5L92.5 838.5L97.5 838.5L101.5 838.5L106.5 838.5L110.5 838.5L114.5 838.5L119.5 838.5L123.5 838.5L127.5 838.5L132.5 838.5L136.5 838.5L140.5 838.5L145.5 838.5L149.5 838.5L154.5 838.5L158.5 837.5L162.5 828.5L167.5 774.5L171.5 838.5L175.5 838.5L180.5 838.5L184.5 838.5L188.5 838.5L193.5 832.5L197.5 838.5L202.5 820.5L206.5 838.5L210.5 838.5L215.5 838.5L219.5 838.5L223.5 838.5L228.5 838.5L232.5 838.5L236.5 838.5L241.5 838.5L245.5 838.5L250.5 798.5L254.5 836.5L258.5 836.5L263.5 836.5L267.5 836.5L271.5 836.5L276.5 836.5L280.5 836.5L284.5 836.5L289.5 836.5L293.5 836.5L297.5 836.5L302.5 836.5L306.5 836.5L311.5 832.5L315.5 235.5L319.5 163.5L324.5 163.5L328.5 163.5L332.5 163.5L337.5 163.5L341.5 163.5L345.5 163.5L350.5 172.5L354.5 163.5L359.5 163.5L363.5 163.5L367.5 163.5L372.5 162.5L376.5 687.5L380.5 835.5L385.5 836.5L389.5 836.5L393.5 836.5L398.5 836.5L402.5 836.5L406.5 836.5L411.5 836.5L415.5 836.5L420.5 682.5L424.5 153.5L428.5 279.5L433.5 836.5L437.5 836.5L441.5 758.5L446.5 159.5L450.5 475.5L454.5 836.5L459.5 836.5L463.5 836.5L468.5 836.5L472.5 835.5L476.5 836.5L481.5 835.5L485.5 836.5L489.5 836.5L494.5 836.5L498.5 827.5L502.5 814.5L507.5 836.5L511.5 833.5L516.5 836.5L520.5 829.5L524.5 836.5L529.5 836.5L533.5 830.5L537.5 836.5L542.5 809.5L546.5 695.5L550.5 836.5L555.5 835.5L559.5 807.5L563.5 836.5L568.5 836.5L572.5 754.5L577.5 836.5L581.5 836.5L585.5 441.5L590.5 711.5L594.5 836.5L598.5 836.5L603.5 836.5L607.5 812.5L612.5 836.5L616.5 836.5L620.5 836.5L625.5 836.5L629.5 836.5L633.5 836.5L638.5 836.5L642.5 835.5L646.5 833.5L651.5 836.5L655.5 836.5L659.5 836.5L664.5 834.5L668.5 836.5L673.5 836.5L677.5 836.5L681.5 836.5L686.5 836.5L690.5 836.5L694.5 836.5L699.5 836.5L703.5 836.5L707.5 836.5L712.5 836.5L716.5 836.5L720.5 836.5L725.5 836.5L729.5 835.5L734.5 836.5L738.5 836.5L742.5 836.5L747.5 836.5L751.5 836.5L755.5 836.5L760.5 836.5L764.5 836.5L768.5 836.5L773.5 836.5L777.5 836.5L782.5 836.5L786.5 836.5L790.5 836.5L795.5 836.5L799.5 836.5L803.5 836.5L808.5 836.5L812.5 836.5L816.5 836.5L821.5 836.5L825.5 836.5L830.5 836.5L834.5 836.5L838.5 836.5L843.5 836.5L847.5 836.5L851.5 836.5L856.5 836.5L860.5 836.5L864.5 836.5L869.5 836.5L873.5 836.5L877.5 836.5L882.5 836.5L886.5 836.5L891.5 836.5L895.5 836.5L899.5 836.5L904.5 836.5L908.5 836.5L912.5 836.5L917.5 836.5L921.5 836.5L925.5 836.5L930.5 836.5L934.5 836.5L939.5 836.5L943.5 836.5L947.5 836.5L952.5 836.5L956.5 836.5L960.5 836.5L965.5 836.5L969.5 836.5L973.5 836.5L978.5 836.5L982.5 836.5L987.5 836.5L991.5 836.5L995.5 836.5L1000.5 836.5L1004.5 836.5L1008.5 836.5L1013.5 836.5L1017.5 836.5L1021.5 836.5L1026.5 836.5L1030.5 836.5" fill="none" stroke="#2ca02c" stroke-width="2" stroke-linejoin="round" stroke-linecap="round"/>
<circle class="h" cx="75.5" cy="838.5" r="9.42"/>
<circle class="h" cx="79.5" cy="838.5" r="9.42"/>
<circle cx="79.5" cy="838.5" r="5.45" fill="#2ca02c"/>
<circle class="h" cx="84.5" cy="838.5" r="9.42"/>
<circle class="h" cx="88.5" cy="838.5" r="9.42"/>
<circle class="h" cx="92.5" cy="838.5" r="9.42"/>
<circle cx="92.5" cy="838.5" r="5.45" fill="#2ca02c"/>
<circle class="h" cx="97.5" cy="838.5" r="9.42"/>
<circle class="h" cx="101.5" cy="838.5" r="9.42"/>
<circle cx="101.5" cy="838.5" r="5.45" fill="#2ca02c"/>
<circle class="h" cx="106.5" cy="838.5" r="9.42"/>
<circle class="h" cx="110.5" cy="838.5" r="9.42"/>
<circle class="h" cx="114.5" cy="838.5" r="9.42"/>
<circle cx="114.5" cy="838.5" r="5.45" fill="#2ca02c"/>
<circle class="h" cx="119.5" cy="838.5" r="9.42"/>
<circle class="h" cx="123.5" cy="838.5" r="9.42"/>
<circle class="h" cx="127.5" cy="838.5" r="9.42"/>
<circle cx="127.5" cy="838.5" r="5.45" fill="#2ca02c"/>
<circle class="h" cx="132.5" cy="838.5" r="9.42"/>
<circle class="h" cx="136.5" cy="838.5" r="9.42"/>
<circle class="h" cx="140.5" cy="838.5" r="9.42"/>
<circle cx="140.5" cy="838.5" r="5.45" fill="#2ca02c"/>
<circle class="h" cx="145.5" cy="838.5" r="9.42"/>
<circle class="h" cx="149.5" cy="838.5" r="9.42"/>
<circle cx="149.5" cy="838.5" r="5.45" fill="#2ca02c"/>
<circle class="h" cx="154.5" cy="838.5" r="9.42"/>
<circle cx="154.5" cy="838.5" r="5.45" fill="#2ca02c"/>
<circle class="h" cx="158.5" cy="837.5" r="9.42"/>
<circle cx="158.5" cy="837.5" r="5.45" fill="#2ca02c"/>
<circle class="h" cx="162.5" cy="828.5" r="9.42"/>
<circle cx="162.5" cy="828.5" r="5.45" fill="#2ca02c"/>
<circle class="h" cx="167.5" cy="774.5" r="9.42"/>
<circle cx="167.5" cy="774.5" r="5.45" fill="#2ca02c"/>
<circle class="h" cx="171.5" cy="838.5" r="9.42"/>
<circle class="h" cx="175.5" cy="838.5" r="9.42"/>
<circle cx="175.5" cy="838.5" r="5.45" fill="#2ca02c"/>
<circle class="h" cx="180.5" cy="838.5" r="9.42"/>
<circle class="h" cx="184.5" cy="838.5" r="9.42"/>
<circle class="h" cx="188.5" cy="838.5" r="9.42"/>
<circle cx="188.5" cy="838.5" r="5.45" fill="#2ca02c"/>
<circle class="h" cx="193.5" cy="832.5" r="9.42"/>
<circle cx="193.5" cy="832.5" r="5.45" fill="#2ca02c"/>
<circle class="h" cx="197.5" cy="838.5" r="9.42"/>
<circle cx="197.5" cy="838.5" r="5.45" fill="#2ca02c"/>
<circle class="h" cx="202.5" cy="820.5" r="9.42"/>
<circle cx="202.5" cy="820.5" r="5.45" fill="#2ca02c"/>
<circle class="h" cx="206.5" cy="838.5" r="9.42"/>
<circle class="h" cx="210.5" cy="838.5" r="9.42"/>
<circle cx="210.5" cy="838.5" r="5.45" fill="#2ca02c"/>
<circle class="h" cx="215.5" cy="838.5" r="9.42"/>
<circle class="h" cx="219.5" cy="838.5" r="9.42"/>
<circle class="h" cx="223.5" cy="838.5" r="9.42"/>
<circle cx="223.5" cy="838.5" r="5.45" fill="#2ca02c"/>
<circle class="h" cx="228.5" cy="838.5" r="9.42"/>
<circle class="h" cx="232.5" cy="838.5" r="9.42"/>
<circle class="h" cx="236.5" cy="838.5" r="9.42"/>
<circle cx="236.5" cy="838.5" r="5.45" fill="#2ca02c"/>
<circle class="h" cx="241.5" cy="838.5" r="9.42"/>
<circle class="h" cx="245.5" cy="838.5" r="9.42"/>
<circle cx="245.5" cy="838.5" r="5.45" fill="#2ca02c"/>
<circle class="h" cx="250.5" cy="798.5" r="9.42"/>
<circle cx="250.5" cy="798.5" r="5.45" fill="#2ca02c"/>
<circle class="h" cx="254.5" cy="836.5" r="9.42"/>
<circle class="h" cx="258.5" cy="836.5" r="9.42"/>
<circle cx="258.5" cy="836.5" r="5.45" fill="#2ca02c"/>
<circle class="h" cx="263.5" cy="836.5" r="9.42"/>
<circle class="h" cx="267.5" cy="836.5" r="9.42"/>
<circle class="h" cx="271.5" cy="836.5" r="9.42"/>
<circle cx="271.5" cy="836.5" r="5.45" fill="#2ca02c"/>
<circle class="h" cx="276.5" cy="836.5" r="9.42"/>
<circle class="h" cx="280.5" cy="836.5" r="9.42"/>
<circle class="h" cx="284.5" cy="836.5" r="9.42"/>
<circle cx="284.5" cy="836.5" r="5.45" fill="#2ca02c"/>
<circle class="h" cx="289.5" cy="836.5" r="9.42"/>
<circle class="h" cx="293.5" cy="836.5" r="9.42"/>
<circle class="h" cx="297.5" cy="836.5" r="9.42"/>
<circle cx="297.5" cy="836.5" r="5.45" fill="#2ca02c"/>
<circle class="h" cx="302.5" cy="836.5" r="9.42"/>
<circle class="h" cx="306.5" cy="836.5" r="9.42"/>
<circle cx="306.5" cy="836.5" r="5.45" fill="#2ca02c"/>
<circle class="h" cx="311.5" cy="832.5" r="9.42"/>
<circle cx="311.5" cy="832.5" r="5.45" fill="#2ca02c"/>
<circle class="h" cx="315.5" cy="235.5" r="9.42"/>
<circle cx="315.5" cy="235.5" r="5.45" fill="#2ca02c"/>
<circle class="h" cx="319.5" cy="163.5" r="9.42"/>
<circle cx="319.5" cy="163.5" r="5.45" fill="#2ca02c"/>
<circle class="h" cx="324.5" cy="163.5" r="9.42"/>
<circle class="h" cx="328.5" cy="163.5" r="9.42"/>
<circle class="h" cx="332.5" cy="163.5" r="9.42"/>
<circle cx="332.5" cy="163.5" r="5.45" fill="#2ca02c"/>
<circle class="h" cx="337.5" cy="163.5" r="9.42"/>
<circle class="h" cx="341.5" cy="163.5" r="9.42"/>
<circle class="h" cx="345.5" cy="163.5" r="9.42"/>
<circle cx="345.5" cy="163.5" r="5.45" fill="#2ca02c"/>
<circle class="h" cx="350.5" cy="172.5" r="9.42"/>
<circle cx="350.5" cy="172.5" r="5.45" fill="#2ca02c"/>
<circle class="h" cx="354.5" cy="163.5" r="9.42"/>
<circle cx="354.5" cy="163.5" r="5.45" fill="#2ca02c"/>
<circle class="h" cx="359.5" cy="163.5" r="9.42"/>
<circle class="h" cx="363.5" cy="163.5" r="9.42"/>
<circle class="h" cx="367.5" cy="163.5" r="9.42"/>
<circle cx="367.5" cy="163.5" r="5.45" fill="#2ca02c"/>
<circle class="h" cx="372.5" cy="162.5" r="9.42"/>
<circle cx="372.5" cy="162.5" r="5.45" fill="#2ca02c"/>
<circle class="h" cx="376.5" cy="687.5" r="9.42"/>
<circle cx="376.5" cy="687.5" r="5.45" fill="#2ca02c"/>
<circle class="h" cx="380.5" cy="835.5" r="9.42"/>
<circle cx="380.5" cy="835.5" r="5.45" fill="#2ca02c"/>
<circle class="h" cx="385.5" cy="836.5" r="9.42"/>
<circle class="h" cx="389.5" cy="836.5" r="9.42"/>
<circle class="h" cx="393.5" cy="836.5" r="9.42"/>
<circle cx="393.5" cy="836.5" r="5.45" fill="#2ca02c"/>
<circle class="h" cx="398.5" cy="836.5" r="9.42"/>
<circle class="h" cx="402.5" cy="836.5" r="9.42"/>
<circle class="h" cx="406.5" cy="836.5" r="9.42"/>
<circle cx="406.5" cy="836.5" r="5.45" fill="#2ca02c"/>
<circle class="h" cx="411.5" cy="836.5" r="9.42"/>
<circle class="h" cx="415.5" cy="836.5" r="9.42"/>
<circle cx="415.5" cy="836.5" r="5.45" fill="#2ca02c"/>
<circle class="h" cx="420.5" cy="682.5" r="9.42"/>
<circle cx="420.5" cy="682.5" r="5.45" fill="#2ca02c"/>
<circle class="h" cx="424.5" cy="153.5" r="9.42"/>
<circle cx="424.5" cy="153.5" r="5.45" fill="#2ca02c"/>
<circle class="h" cx="428.5" cy="279.5" r="9.42"/>
<circle cx="428.5" cy="279.5" r="5.45" fill="#2ca02c"/>
<circle class="h" cx="433.5" cy="836.5" r="9.42"/>
<circle class="h" cx="437.5" cy="836.5" r="9.42"/>
<circle cx="437.5" cy="836.5" r="5.45" fill="#2ca02c"/>
<circle class="h" cx="441.5" cy="758.5" r="9.42"/>
<circle cx="441.5" cy="758.5" r="5.45" fill="#2ca02c"/>
<circle class="h" cx="446.5" cy="159.5" r="9.42"/>
<circle cx="446.5" cy="159.5" r="5.45" fill="#2ca02c"/>
<circle class="h" cx="450.5" cy="475.5" r="9.42"/>
<circle cx="450.5" cy="475.5" r="5.45" fill="#2ca02c"/>
<circle class="h" cx="454.5" cy="836.5" r="9.42"/>
<circle cx="454.5" cy="836.5" r="5.45" fill="#2ca02c"/>
<circle class="h" cx="459.5" cy="836.5" r="9.42"/>
<circle class="h" cx="463.5" cy="836.5" r="9.42"/>
<circle cx="463.5" cy="836.5" r="5.45" fill="#2ca02c"/>
<circle class="h" cx="468.5" cy="836.5" r="9.42"/>
<circle cx="468.5" cy="836.5" r="5.45" fill="#2ca02c"/>
<circle class="h" cx="472.5" cy="835.5" r="9.42"/>
<circle cx="472.5" cy="835.5" r="5.45" fill="#2ca02c"/>
<circle class="h" cx="476.5" cy="836.5" r="9.42"/>
<circle cx="476.5" cy="836.5" r="5.45" fill="#2ca02c"/>
<circle class="h" cx="481.5" cy="835.5" r="9.42"/>
<circle cx="481.5" cy="835.5" r="5.45" fill="#2ca02c"/>
<circle class="h" cx="485.5" cy="836.5" r="9.42"/>
<circle class="h" cx="489.5" cy="836.5" r="9.42"/>
<circle cx="489.5" cy="836.5" r="5.45" fill="#2ca02c"/>
<circle class="h" cx="494.5" cy="836.5" r="9.42"/>
<circle cx="494.5" cy="836.5" r="5.45" fill="#2ca02c"/>
<circle class="h" cx="498.5" cy="827.5" r="9.42"/>
<circle cx="498.5" cy="827.5" r="5.45" fill="#2ca02c"/>
<circle class="h" cx="502.5" cy="814.5" r="9.42"/>
<circle cx="502.5" cy="814.5" r="5.45" fill="#2ca02c"/>
<circle class="h" cx="507.5" cy="836.5" r="9.42"/>
<circle cx="507.5" cy="836.5" r="5.45" fill="#2ca02c"/>
<circle class="h" cx="511.5" cy="833.5" r="9.42"/>
<circle cx="511.5" cy="833.5" r="5.45" fill="#2ca02c"/>
<circle class="h" cx="516.5" cy="836.5" r="9.42"/>
<circle cx="516.5" cy="836.5" r="5.45" fill="#2ca02c"/>
<circle class="h" cx="520.5" cy="829.5" r="9.42"/>
<circle cx="520.5" cy="829.5" r="5.45" fill="#2ca02c"/>
<circle class="h" cx="524.5" cy="836.5" r="9.42"/>
<circle cx="524.5" cy="836.5" r="5.45" fill="#2ca02c"/>
<circle class="h" cx="529.5" cy="836.5" r="9.42"/>
<circle cx="529.5" cy="836.5" r="5.45" fill="#2ca02c"/>
<circle class="h" cx="533.5" cy="830.5" r="9.42"/>
<circle cx="533.5" cy="830.5" r="5.45" fill="#2ca02c"/>
<circle class="h" cx="537.5" cy="836.5" r="9.42"/>
<circle cx="537.5" cy="836.5" r="5.45" fill="#2ca02c"/>
<circle class="h" cx="542.5" cy="809.5" r="9.42"/>
<circle cx="542.5" cy="809.5" r="5.45" fill="#2ca02c"/>
<circle class="h" cx="546.5" cy="695.5" r="9.42"/>
<circle cx="546.5" cy="695.5" r="5.45" fill="#2ca02c"/>
<circle class="h" cx="550.5" cy="836.5" r="9.42"/>
<circle cx="550.5" cy="836.5" r="5.45" fill="#2ca02c"/>
<circle class="h" cx="555.5" cy="835.5" r="9.42"/>
<circle cx="555.5" cy="835.5" r="5.45" fill="#2ca02c"/>
<circle class="h" cx="559.5" cy="807.5" r="9.42"/>
<circle cx="559.5" cy="807.5" r="5.45" fill="#2ca02c"/>
<circle class="h" cx="563.5" cy="836.5" r="9.42"/>
<circle cx="563.5" cy="836.5" r="5.45" fill="#2ca02c"/>
<circle class="h" cx="568.5" cy="836.5" r="9.42"/>
<circle cx="568.5" cy="836.5" r="5.45" fill="#2ca02c"/>
<circle class="h" cx="572.5" cy="754.5" r="9.42"/>
<circle cx="572.5" cy="754.5" r="5.45" fill="#2ca02c"/>
<circle class="h" cx="577.5" cy="836.5" r="9.42"/>
<circle class="h" cx="581.5" cy="836.5" r="9.42"/>
<circle cx="581.5" cy="836.5" r="5.45" fill="#2ca02c"/>
<circle class="h" cx="585.5" cy="441.5" r="9.42"/>
<circle cx="585.5" cy="441.5" r="5.45" fill="#2ca02c"/>
<circle class="h" cx="590.5" cy="711.5" r="9.42"/>
<circle cx="590.5" cy="711.5" r="5.45" fill="#2ca02c"/>
<circle class="h" cx="594.5" cy="836.5" r="9.42"/>
<circle class="h" cx="598.5" cy="836.5" r="9.42"/>
<circle cx="598.5" cy="836.5" r="5.45" fill="#2ca02c"/>
<circle class="h" cx="603.5" cy="836.5" r="9.42"/>
<circle cx="603.5" cy="836.5" r="5.45" fill="#2ca02c"/>
<circle class="h" cx="607.5" cy="812.5" r="9.42"/>
<circle cx="607.5" cy="812.5" r="5.45" fill="#2ca02c"/>
<circle class="h" cx="612.5" cy="836.5" r="9.42"/>
<circle class="h" cx="616.5" cy="836.5" r="9.42"/>
<circle class="h" cx="620.5" cy="836.5" r="9.42"/>
<circle cx="620.5" cy="836.5" r="5.45" fill="#2ca02c"/>
<circle class="h" cx="625.5" cy="836.5" r="9.42"/>
<circle class="h" cx="629.5" cy="836.5" r="9.42"/>
<circle class="h" cx="633.5" cy="836.5" r="9.42"/>
<circle cx="633.5" cy="836.5" r="5.45" fill="#2ca02c"/>
<circle class="h" cx="638.5" cy="836.5" r="9.42"/>
<circle cx="638.5" cy="836.5" r="5.45" fill="#2ca02c"/>
<circle class="h" cx="642.5" cy="835.5" r="9.42"/>
<circle cx="642.5" cy="835.5" r="5.45" fill="#2ca02c"/>
<circle class="h" cx="646.5" cy="833.5" r="9.42"/>
<circle cx="646.5" cy="833.5" r="5.45" fill="#2ca02c"/>
<circle class="h" cx="651.5" cy="836.5" r="9.42"/>
<circle class="h" cx="655.5" cy="836.5" r="9.42"/>
<circle class="h" cx="659.5" cy="836.5" r="9.42"/>
<circle cx="659.5" cy="836.5" r="5.45" fill="#2ca02c"/>
<circle class="h" cx="664.5" cy="834.5" r="9.42"/>
<circle cx="664.5" cy="834.5" r="5.45" fill="#2ca02c"/>
<circle class="h" cx="668.5" cy="836.5" r="9.42"/>
<circle cx="668.5" cy="836.5" r="5.45" fill="#2ca02c"/>
<circle class="h" cx="673.5" cy="836.5" r="9.42"/>
<circle class="h" cx="677.5" cy="836.5" r="9.42"/>
<circle class="h" cx="681.5" cy="836.5" r="9.42"/>
<circle cx="681.5" cy="836.5" r="5.45" fill="#2ca02c"/>
<circle class="h" cx="686.5" cy="836.5" r="9.42"/>
<circle class="h" cx="690.5" cy="836.5" r="9.42"/>
<circle class="h" cx="694.5" cy="836.5" r="9.42"/>
<circle cx="694.5" cy="836.5" r="5.45" fill="#2ca02c"/>
<circle class="h" cx="699.5" cy="836.5" r="9.42"/>
<circle class="h" cx="703.5" cy="836.5" r="9.42"/>
<circle class="h" cx="707.5" cy="836.5" r="9.42"/>
<circle cx="707.5" cy="836.5" r="5.45" fill="#2ca02c"/>
<circle class="h" cx="712.5" cy="836.5" r="9.42"/>
<circle class="h" cx="716.5" cy="836.5" r="9.42"/>
<circle class="h" cx="720.5" cy="836.5" r="9.42"/>
<circle cx="720.5" cy="836.5" r="5.45" fill="#2ca02c"/>
<circle class="h" cx="725.5" cy="836.5" r="9.42"/>
<circle cx="725.5" cy="836.5" r="5.45" fill="#2ca02c"/>
<circle class="h" cx="729.5" cy="835.5" r="9.42"/>
<circle cx="729.5" cy="835.5" r="5.45" fill="#2ca02c"/>
<circle class="h" cx="734.5" cy="836.5" r="9.42"/>
<circle class="h" cx="738.5" cy="836.5" r="9.42"/>
<circle class="h" cx="742.5" cy="836.5" r="9.42"/>
<circle cx="742.5" cy="836.5" r="5.45" fill="#2ca02c"/>
<circle class="h" cx="747.5" cy="836.5" r="9.42"/>
<circle class="h" cx="751.5" cy="836.5" r="9.42"/>
<circle class="h" cx="755.5" cy="836.5" r="9.42"/>
<circle cx="755.5" cy="836.5" r="5.45" fill="#2ca02c"/>
<circle class="h" cx="760.5" cy="836.5" r="9.42"/>
<circle class="h" cx="764.5" cy="836.5" r="9.42"/>
<circle class="h" cx="768.5" cy="836.5" r="9.42"/>
<circle cx="768.5" cy="836.5" r="5.45" fill="#2ca02c"/>
<circle class="h" cx="773.5" cy="836.5" r="9.42"/>
<circle class="h" cx="777.5" cy="836.5" r="9.42"/>
<circle cx="777.5" cy="836.5" r="5.45" fill="#2ca02c"/>
<circle class="h" cx="782.5" cy="836.5" r="9.42"/>
<circle class="h" cx="786.5" cy="836.5" r="9.42"/>
<circle class="h" cx="790.5" cy="836.5" r="9.42"/>
<circle cx="790.5" cy="836.5" r="5.45" fill="#2ca02c"/>
<circle class="h" cx="795.5" cy="836.5" r="9.42"/>
<circle class="h" cx="799.5" cy="836.5" r="9.42"/>
<circle class="h" cx="803.5" cy="836.5" r="9.42"/>
<circle cx="803.5" cy="836.5" r="5.45" fill="#2ca02c"/>
<circle class="h" cx="808.5" cy="836.5" r="9.42"/>
<circle class="h" cx="812.5" cy="836.5" r="9.42"/>
<circle class="h" cx="816.5" cy="836.5" r="9.42"/>
<circle cx="816.5" cy="836.5" r="5.45" fill="#2ca02c"/>
<circle class="h" cx="821.5" cy="836.5" r="9.42"/>
<circle class="h" cx="825.5" cy="836.5" r="9.42"/>
<circle cx="825.5" cy="836.5" r="5.45" fill="#2ca02c"/>
<circle class="h" cx="830.5" cy="836.5" r="9.42"/>
<circle class="h" cx="834.5" cy="836.5" r="9.42"/>
<circle class="h" cx="838.5" cy="836.5" r="9.42"/>
<circle cx="838.5" cy="836.5" r="5.45" fill="#2ca02c"/>
<circle class="h" cx="843.5" cy="836.5" r="9.42"/>
<circle class="h" cx="847.5" cy="836.5" r="9.42"/>
<circle class="h" cx="851.5" cy="836.5" r="9.42"/>
<circle cx="851.5" cy="836.5" r="5.45" fill="#2ca02c"/>
<circle class="h" cx="856.5" cy="836.5" r="9.42"/>
<circle class="h" cx="860.5" cy="836.5" r="9.42"/>
<circle class="h" cx="864.5" cy="836.5" r="9.42"/>
<circle cx="864.5" cy="836.5" r="5.45" fill="#2ca02c"/>
<circle class="h" cx="869.5" cy="836.5" r="9.42"/>
<circle class="h" cx="873.5" cy="836.5" r="9.42"/>
<circle class="h" cx="877.5" cy="836.5" r="9.42"/>
<circle cx="877.5" cy="836.5" r="5.45" fill="#2ca02c"/>
<circle class="h" cx="882.5" cy="836.5" r="9.42"/>
<circle class="h" cx="886.5" cy="836.5" r="9.42"/>
<circle cx="886.5" cy="836.5" r="5.45" fill="#2ca02c"/>
<circle class="h" cx="891.5" cy="836.5" r="9.42"/>
<circle class="h" cx="895.5" cy="836.5" r="9.42"/>
<circle class="h" cx="899.5" cy="836.5" r="9.42"/>
<circle cx="899.5" cy="836.5" r="5.45" fill="#2ca02c"/>
<circle class="h" cx="904.5" cy="836.5" r="9.42"/>
<circle class="h" cx="908.5" cy="836.5" r="9.42"/>
<circle class="h" cx="912.5" cy="836.5" r="9.42"/>
<circle cx="912.5" cy="836.5" r="5.45" fill="#2ca02c"/>
<circle class="h" cx="917.5" cy="836.5" r="9.42"/>
<circle class="h" cx="921.5" cy="836.5" r="9.42"/>
<circle class="h" cx="925.5" cy="836.5" r="9.42"/>
<circle cx="925.5" cy="836.5" r="5.45" fill="#2ca02c"/>
<circle class="h" cx="930.5" cy="836.5" r="9.42"/>
<circle class="h" cx="934.5" cy="836.5" r="9.42"/>
<circle cx="934.5" cy="836.5" r="5.45" fill="#2ca02c"/>
<circle class="h" cx="939.5" cy="836.5" r="9.42"/>
<circle class="h" cx="943.5" cy="836.5" r="9.42"/>
<circle class="h" cx="947.5" cy="836.5" r="9.42"/>
<circle cx="947.5" cy="836.5" r="5.45" fill="#2ca02c"/>
<circle class="h" cx="952.5" cy="836.5" r="9.42"/>
<circle class="h" cx="956.5" cy="836.5" r="9.42"/>
<circle class="h" cx="960.5" cy="836.5" r="9.42"/>
<circle cx="960.5" cy="836.5" r="5.45" fill="#2ca02c"/>
<circle class="h" cx="965.5" cy="836.5" r="9.42"/>
<circle class="h" cx="969.5" cy="836.5" r="9.42"/>
<circle class="h" cx="973.5" cy="836.5" r="9.42"/>
<circle cx="973.5" cy="836.5" r="5.45" fill="#2ca02c"/>
<circle class="h" cx="978.5" cy="836.5" r="9.42"/>
<circle class="h" cx="982.5" cy="836.5" r="9.42"/>
<circle cx="982.5" cy="836.5" r="5.45" fill="#2ca02c"/>
<circle class="h" cx="987.5" cy="836.5" r="9.42"/>
<circle class="h" cx="991.5" cy="836.5" r="9.42"/>
<circle class="h" cx="995.5" cy="836.5" r="9.42"/>
<circle cx="995.5" cy="836.5" r="5.45" fill="#2ca02c"/>
<circle class="h" cx="1000.5" cy="836.5" r="9.42"/>
<circle class="h" cx="1004.5" cy="836.5" r="9.42"/>
<circle class="h" cx="1008.5" cy="836.5" r="9.42"/>
<circle cx="1008.5" cy="836.5" r="5.45" fill="#2ca02c"/>
<circle class="h" cx="1013.5" cy="836.5" r="9.42"/>
<circle class="h" cx="1017.5" cy="836.5" r="9.42"/>
<circle class="h" cx="1021.5" cy="836.5" r="9.42"/>
<circle cx="1021.5" cy="836.5" r="5.45" fill="#2ca02c"/>
<circle class="h" cx="1026.5" cy="836.5" r="9.42"/>
<circle class="h" cx="1030.5" cy="836.5" r="9.42"/>
<circle cx="1030.5" cy="836.5" r="5.45" fill="#2ca02c"/>
</g>
<path d="M75.5 57.5V838.5H1165.5" fill="none" stroke="#000" stroke-width="1" stroke-linecap="square"/>
<defs><filter id="g" x="0" y="0" width="1197" height="900" filterUnits="userSpaceOnUse" color-interpolation-filters="sRGB"><feColorMatrix type="saturate" values="0"/></filter></defs>
<path d="M1098.5 74.5H1144.5" stroke="#0060ad" stroke-width="2" stroke-linecap="round"/>
<circle class="h" cx="1121.5" cy="74.5" r="9.42"/><circle cx="1121.5" cy="74.5" r="5.45" fill="#0060ad"/>
<path d="M1098.5 93.5H1144.5" stroke="#ff7f0e" stroke-width="2" stroke-linecap="round"/>
<circle class="h" cx="1121.5" cy="93.5" r="9.42"/><circle cx="1121.5" cy="93.5" r="5.45" fill="#ff7f0e"/>
<path d="M1098.5 112.5H1144.5" stroke="#2ca02c" stroke-width="2" stroke-linecap="round"/>
<circle class="h" cx="1121.5" cy="112.5" r="9.42"/><circle cx="1121.5" cy="112.5" r="5.45" fill="#2ca02c"/>
<g filter="url(#g)">
<text x="1087.5" y="80.0" text-anchor="end" textLength="29.7" lengthAdjust="spacingAndGlyphs" xml:space="preserve" style="white-space:pre">TCP</text>
<text x="1087.5" y="99.0" text-anchor="end" textLength="33.7" lengthAdjust="spacingAndGlyphs" xml:space="preserve" style="white-space:pre">UDP</text>
<text x="1087.5" y="118.0" text-anchor="end" textLength="118.4" lengthAdjust="spacingAndGlyphs" xml:space="preserve" style="white-space:pre">IP (!TCP  !UDP)</text>
<text x="64.7" y="844.2" text-anchor="end" textLength="9.6" lengthAdjust="spacingAndGlyphs">0</text>
<text x="64.7" y="732.2" text-anchor="end" textLength="9.6" lengthAdjust="spacingAndGlyphs">5</text>
<text x="64.7" y="621.2" text-anchor="end" textLength="19.2" lengthAdjust="spacingAndGlyphs">10</text>
<text x="64.7" y="509.2" text-anchor="end" textLength="19.2" lengthAdjust="spacingAndGlyphs">15</text>
<text x="64.7" y="398.2" text-anchor="end" textLength="19.2" lengthAdjust="spacingAndGlyphs">20</text>
<text x="64.7" y="286.2" text-anchor="end" textLength="19.2" lengthAdjust="spacingAndGlyphs">25</text>
<text x="64.7" y="175.2" text-anchor="end" textLength="19.2" lengthAdjust="spacingAndGlyphs">30</text>
<text x="64.7" y="63.2" text-anchor="end" textLength="19.2" lengthAdjust="spacingAndGlyphs">35</text>
<text x="78.4" y="864" text-anchor="middle" textLength="9.8" lengthAdjust="spacingAndGlyphs">0</text>
<text x="296.4" y="864" text-anchor="middle" textLength="19.7" lengthAdjust="spacingAndGlyphs">50</text>
<text x="514.4" y="864" text-anchor="middle" textLength="29.5" lengthAdjust="spacingAndGlyphs">100</text>
<text x="732.4" y="864" text-anchor="middle" textLength="29.5" lengthAdjust="spacingAndGlyphs">150</text>
<text x="950.4" y="864" text-anchor="middle" textLength="29.5" lengthAdjust="spacingAndGlyphs">200</text>
<text x="1168.4" y="864" text-anchor="middle" textLength="29.5" lengthAdjust="spacingAndGlyphs">250</text>
<text x="620.5" y="892" text-anchor="middle" textLength="65.1" lengthAdjust="spacingAndGlyphs">Time (s)</text>
<text transform="translate(24 448) rotate(-90)" text-anchor="middle" textLength="72.9" lengthAdjust="spacingAndGlyphs">Megabits</text>
<text x="-4.50" y="35.0" font-size="16" textLength="31.95" lengthAdjust="spacingAndGlyphs">or0/</text>
<text x="27.45" y="35.0" font-size="16" textLength="88.66" lengthAdjust="spacingAndGlyphs">searchlight</text>
<text x="116.11" y="35.0" font-size="16" textLength="5.39" lengthAdjust="spacingAndGlyphs">/</text>
<text x="121.50" y="35.0" font-size="16" textLength="53.81" lengthAdjust="spacingAndGlyphs">corpus</text>
<text x="175.31" y="35.0" font-size="16" textLength="5.39" lengthAdjust="spacingAndGlyphs">/</text>
<text x="180.70" y="35.0" font-size="16" textLength="79.80" lengthAdjust="spacingAndGlyphs">julyreruns</text>
<text x="260.50" y="35.0" font-size="16" textLength="5.39" lengthAdjust="spacingAndGlyphs">/</text>
<text x="265.89" y="35.0" font-size="16" textLength="41.59" lengthAdjust="spacingAndGlyphs">ipsec</text>
<text x="307.48" y="35.0" font-size="16" textLength="5.39" lengthAdjust="spacingAndGlyphs">/</text>
<text x="312.88" y="35.0" font-size="16" textLength="91.92" lengthAdjust="spacingAndGlyphs">experiment</text>
<text x="404.80" y="38.2" font-size="12.8" textLength="8.14" lengthAdjust="spacingAndGlyphs">1</text>
<text x="412.94" y="35.0" font-size="16" textLength="5.39" lengthAdjust="spacingAndGlyphs">/</text>
<text x="418.33" y="35.0" font-size="16" textLength="36.45" lengthAdjust="spacingAndGlyphs">eth1</text>
<text x="454.78" y="38.2" font-size="12.8" textLength="3.56" lengthAdjust="spacingAndGlyphs">i</text>
<text x="458.34" y="35.0" font-size="16" textLength="66.94" lengthAdjust="spacingAndGlyphs">nterface</text>
<text x="525.28" y="35.0" font-size="16" textLength="5.39" lengthAdjust="spacingAndGlyphs">/</text>
<text x="530.67" y="35.0" font-size="16" textLength="26.59" lengthAdjust="spacingAndGlyphs">ptp</text>
<text x="557.27" y="35.0" font-size="16" textLength="5.39" lengthAdjust="spacingAndGlyphs">/</text>
<text x="562.66" y="35.0" font-size="16" textLength="123.50" lengthAdjust="spacingAndGlyphs">exp-c-fast-false</text>
<text x="686.16" y="35.0" font-size="16" textLength="5.39" lengthAdjust="spacingAndGlyphs">/</text>
<text x="691.55" y="35.0" font-size="16" textLength="126.64" lengthAdjust="spacingAndGlyphs">1658958244-c0</text>
<text x="818.19" y="35.0" font-size="16" textLength="73.28" lengthAdjust="spacingAndGlyphs">.ipsecptp</text>
<text x="891.47" y="35.0" font-size="16" textLength="61.28" lengthAdjust="spacingAndGlyphs">.hdumb</text>
<text x="952.75" y="35.0" font-size="16" textLength="133.55" lengthAdjust="spacingAndGlyphs">.pharos-ipsecptp</text>
<text x="1086.30" y="35.0" font-size="16" textLength="63.70" lengthAdjust="spacingAndGlyphs">-c-cloud</text>
<text x="1150.00" y="35.0" font-size="16" textLength="35.17" lengthAdjust="spacingAndGlyphs">.fast</text>
<text x="1185.17" y="35.0" font-size="16" textLength="10.73" lengthAdjust="spacingAndGlyphs">.f</text>
</g>
</svg></body></html>
